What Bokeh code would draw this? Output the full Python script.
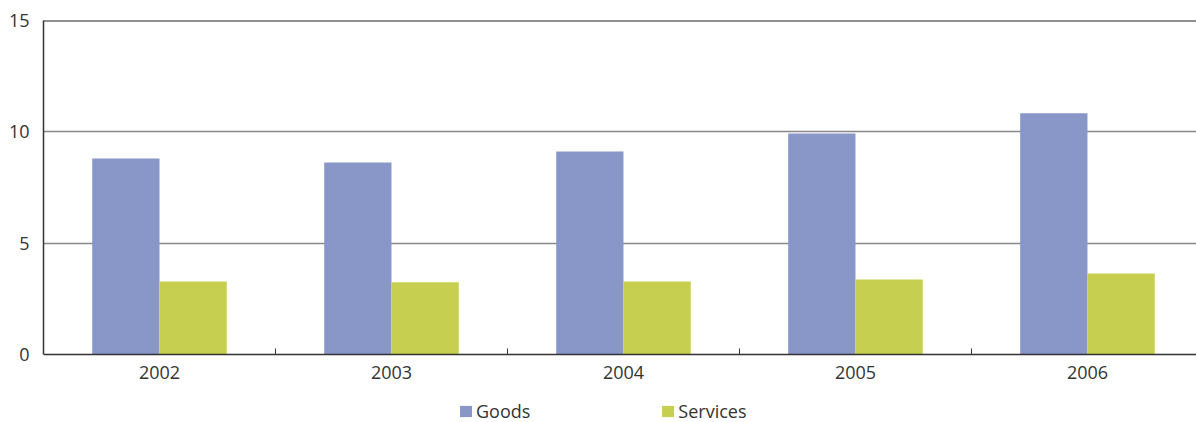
import numpy as np
from bokeh.plotting import figure
from bokeh.models import (ColumnDataSource, FixedTicker, Legend, LegendItem, Range1d, Span)
from bokeh.transform import dodge
from bokeh.embed import file_html
from bokeh.resources import INLINE

years = ["2002", "2003", "2004", "2005", "2006"]
goods = [8.8, 8.62, 9.12, 9.93, 10.83]
services = [3.28, 3.24, 3.28, 3.37, 3.64]
y_ticks = [0, 5, 10, 15]

GOODS_C = "#8896C8"
SERV_C = "#C6CF4F"
FONT = "Open Sans"
TXT = "#333333"

n = len(years)
pos = np.arange(1, n + 1)

src = ColumnDataSource(dict(x=pos, goods=goods, services=services))

p = figure(width=1196, height=422, output_backend="svg", toolbar_location=None,
           x_range=Range1d(0.5, 5.47), y_range=Range1d(-3.054, 15),
           min_border_left=43, min_border_right=0, min_border_top=20, min_border_bottom=0)
p.outline_line_color = None
p.background_fill_color = "white"
p.border_fill_color = "white"

bw = 0.29
r1 = p.vbar(x=dodge("x", -bw / 2), top="goods", width=bw, source=src, fill_color=GOODS_C, line_color=None)
r2 = p.vbar(x=dodge("x", bw / 2), top="services", width=bw, source=src, fill_color=SERV_C, line_color=None)

# axes
xa = p.xaxis[0]
xa.fixed_location = 0
xa.ticker = FixedTicker(ticks=list(pos), minor_ticks=list(pos[:-1] + 0.5))
xa.major_label_overrides = {int(i): y for i, y in zip(pos, years)}
xa.major_tick_in = 0
xa.major_tick_out = 0
xa.minor_tick_in = 6
xa.minor_tick_out = 0
xa.minor_tick_line_color = TXT
xa.axis_line_color = TXT
xa.axis_line_width = 1.5
xa.major_label_text_font = FONT
xa.major_label_text_font_size = "18px"
xa.major_label_text_color = TXT
xa.major_label_standoff = 12

ya = p.yaxis[0]
ya.bounds = (y_ticks[0], y_ticks[-1])
ya.ticker = FixedTicker(ticks=y_ticks)
ya.major_tick_in = 0
ya.major_tick_out = 0
ya.minor_tick_line_color = None
ya.axis_line_color = TXT
ya.axis_line_width = 1.5
ya.major_label_text_font = FONT
ya.major_label_text_font_size = "18px"
ya.major_label_text_color = TXT
ya.major_label_standoff = 14

p.xgrid.grid_line_color = None
p.ygrid.grid_line_color = "#888888"
p.ygrid.grid_line_width = 1.5
p.ygrid.ticker = FixedTicker(ticks=y_ticks[1:-1])

p.add_layout(Span(location=y_ticks[-1], dimension="width", line_color="#222222", line_width=2))

legend = Legend(items=[LegendItem(label="Goods", renderers=[r1]),
                       LegendItem(label="Services", renderers=[r2])],
                orientation="horizontal", location=(415, -1),
                glyph_width=15, glyph_height=14, label_standoff=3, spacing=130,
                label_text_font=FONT, label_text_font_size="18px", label_text_color=TXT,
                border_line_color=None, background_fill_alpha=0, padding=0, margin=0)
p.add_layout(legend, "center")

open("out.html", "w").write(file_html(p, INLINE))
